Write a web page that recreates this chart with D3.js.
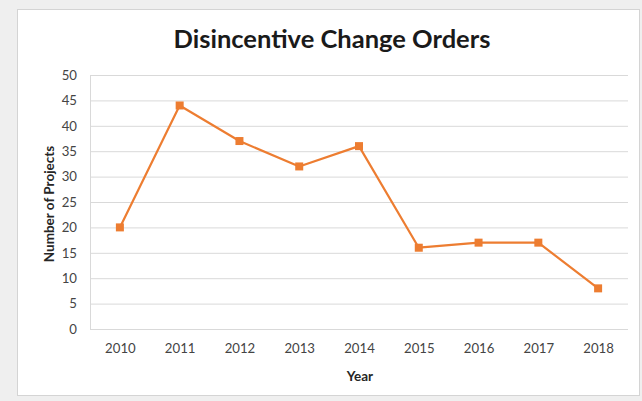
<!DOCTYPE html>
<html>
<head>
<meta charset="utf-8">
<script src="https://cdn.jsdelivr.net/npm/d3@7"></script>
<style>
  html, body { margin: 0; padding: 0; background: #efefef; }
  svg { display: block; }
</style>
</head>
<body>
<svg></svg>
<script>
const years = ["2010", "2011", "2012", "2013", "2014", "2015", "2016", "2017", "2018"];
const projects = [20, 44, 37, 32, 36, 16, 17, 17, 8];
const yTicks = [0, 5, 10, 15, 20, 25, 30, 35, 40, 45, 50];

const W = 642, H = 401;
const margin = { left: 90, right: 14, top: 75, bottom: 72 };
const svg = d3.select("svg").attr("width", W).attr("height", H);

// white chart panel
svg.append("rect").attr("x", 17.5).attr("y", 9.5).attr("width", 622).attr("height", 386)
  .attr("fill", "#fff").attr("stroke", "#d4d4d4");

const x = d3.scalePoint().domain(years).range([margin.left, W - margin.right]).padding(0.5);
const y = d3.scaleLinear().domain([0, 50]).range([H - margin.bottom, margin.top]);

// gridlines
svg.append("g").selectAll("line").data(yTicks).enter().append("line")
  .attr("x1", margin.left).attr("x2", W - margin.right)
  .attr("y1", d => y(d) + 0.5).attr("y2", d => y(d) + 0.5)
  .attr("stroke", "#d9d9d9").attr("stroke-width", 1);
svg.append("line").attr("x1", margin.left + 0.5).attr("x2", margin.left + 0.5)
  .attr("y1", y(50)).attr("y2", y(0)).attr("stroke", "#d9d9d9");

const tickFont = g => g.selectAll("text").attr("font-family", "Lato, sans-serif")
  .attr("font-size", 13.2).attr("fill", "#444");

// y axis labels
const yAxis = d3.axisLeft(y).tickValues(yTicks).tickSize(0).tickPadding(13);
const gy = svg.append("g").attr("transform", `translate(${margin.left},0)`).call(yAxis);
gy.select(".domain").remove();
tickFont(gy);

// x axis labels
const xAxis = d3.axisBottom(x).tickSize(0).tickPadding(15);
const gx = svg.append("g").attr("transform", `translate(0,${y(0)})`).call(xAxis);
gx.select(".domain").remove();
tickFont(gx);

// title + axis titles
svg.append("text").attr("x", 332).attr("y", 48).attr("text-anchor", "middle")
  .attr("font-family", "Lato, sans-serif").attr("font-weight", "bold").attr("font-size", 25.5)
  .attr("fill", "#1a1a1a").text("Disincentive Change Orders");
svg.append("text").attr("x", 360).attr("y", 381).attr("text-anchor", "middle")
  .attr("font-family", "Lato, sans-serif").attr("font-weight", "bold").attr("font-size", 13.5)
  .attr("fill", "#262626").text("Year");
svg.append("text").attr("transform", "translate(54,204) rotate(-90)").attr("text-anchor", "middle")
  .attr("font-family", "Lato, sans-serif").attr("font-weight", "bold").attr("font-size", 13.5)
  .attr("fill", "#262626").text("Number of Projects");

// line + markers
const line = d3.line().x((d, i) => x(years[i])).y(d => y(d));
svg.append("path").datum(projects).attr("d", line)
  .attr("fill", "none").attr("stroke", "#ed7d31").attr("stroke-width", 2.2).attr("stroke-linejoin", "round");
svg.append("g").selectAll("rect").data(projects).enter().append("rect")
  .attr("x", (d, i) => x(years[i]) - 4).attr("y", d => y(d) - 4)
  .attr("width", 8).attr("height", 8).attr("fill", "#ed7d31");
</script>
</body>
</html>
